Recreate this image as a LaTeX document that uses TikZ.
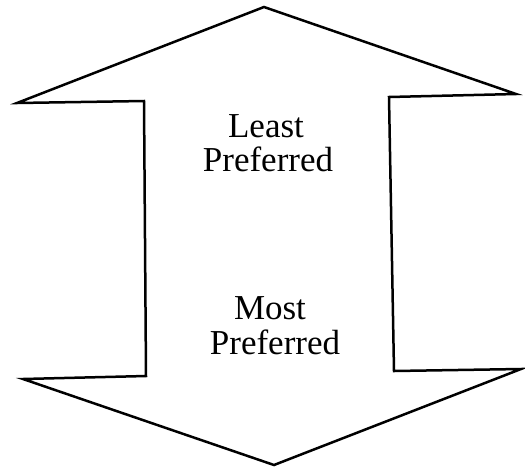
\documentclass[tikz,border=0pt]{standalone}
\usepackage{fontspec}
\setmainfont{Liberation Serif}
\begin{document}
\begin{tikzpicture}[x=1pt,y=-1pt,
  outline/.style={draw=black,line width=2.5pt,line join=miter,fill=white},
  label/.style={anchor=base,inner sep=0pt,font=\fontsize{35}{35}\selectfont}]
\useasboundingbox (0,0) rectangle (525,467);
\coordinate (apexT) at (264,7);
\coordinate (rT) at (516,94);
\coordinate (rsT) at (389,97);
\coordinate (rsB) at (394,371);
\coordinate (rB) at (521,369);
\coordinate (apexB) at (274,465);
\coordinate (lB) at (23,379);
\coordinate (lsB) at (146,376);
\coordinate (lsT) at (144,101);
\coordinate (lT) at (17,103);
\draw[outline] (apexT) -- (rT) -- (rsT) -- (rsB) -- (rB) -- (apexB) -- (lB) -- (lsB) -- (lsT) -- (lT) -- cycle;
\node[label] (least) at (266,137) {Least};
\node[label] (pref1) at (268,171) {Preferred};
\node[label] (most) at (270,319) {Most};
\node[label] (pref2) at (275,354) {Preferred};
\end{tikzpicture}
\end{document}
